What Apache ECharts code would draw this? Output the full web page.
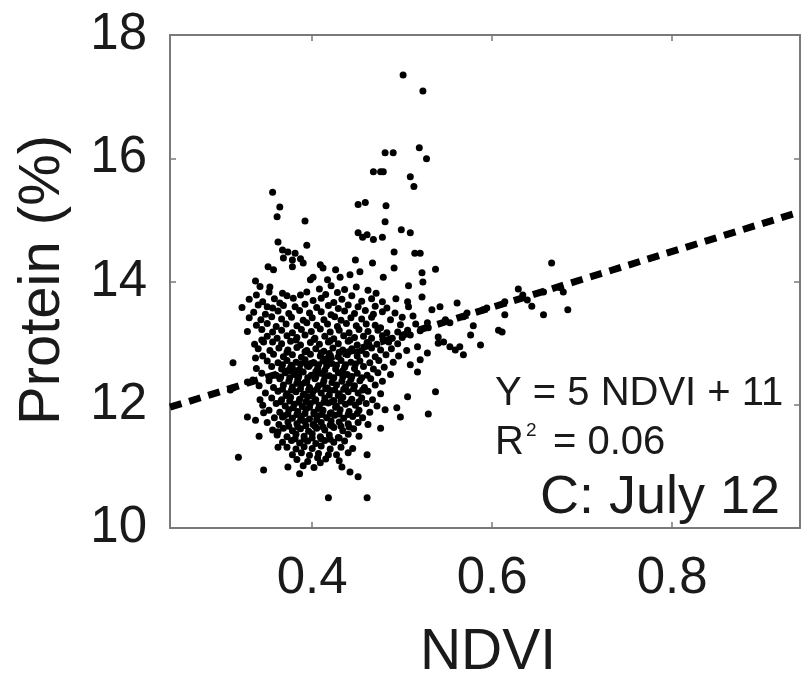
<!DOCTYPE html>
<html lang="en">
<head>
    <meta charset="UTF-8">
    <title>Protein vs NDVI</title>
    <script src="https://cdn.jsdelivr.net/npm/echarts@6/dist/echarts.min.js"></script>
    <style>
        html, body { margin: 0; padding: 0; background: #ffffff; }
        #main { width: 807px; height: 678px; }
    </style>
</head>
<body>
<div id="main"></div>
<script>
    // axis ticks
    var xTicks = [0.4, 0.6, 0.8];
    var yTicks = [10, 12, 14, 16, 18];

    // scattered points outside the dense core
    var outerPoints = [
        [0.501,17.35],[0.523,17.09],[0.519,16.17],[0.527,15.99],[0.481,16.09],[0.490,16.09],[0.479,15.78],[0.468,15.78],
        [0.476,15.78],[0.509,15.70],[0.513,15.54],[0.356,15.45],[0.364,15.21],[0.361,15.05],[0.392,14.98],[0.451,15.25],
        [0.459,15.28],[0.482,15.23],[0.481,14.97],[0.451,14.79],[0.461,14.76],[0.468,14.68],[0.456,14.72],[0.362,14.64],
        [0.394,14.59],[0.367,14.51],[0.373,14.48],[0.381,14.46],[0.368,14.38],[0.378,14.35],[0.387,14.37],[0.378,14.24],
        [0.390,14.30],[0.351,14.24],[0.357,14.19],[0.337,14.01],[0.353,13.91],[0.409,14.27],[0.412,14.22],[0.426,14.19],
        [0.448,14.35],[0.467,14.30],[0.401,14.07],[0.398,14.03],[0.417,14.03],[0.431,14.07],[0.442,14.11],[0.453,14.16],
        [0.367,13.81],[0.372,13.77],[0.379,13.73],[0.387,13.78],[0.394,13.83],[0.350,13.59],[0.364,13.65],
        [0.478,14.72],[0.499,14.84],[0.509,14.79],[0.491,14.48],[0.514,14.46],[0.520,14.46],[0.491,14.22],[0.537,14.20],
        [0.479,14.07],[0.522,14.14],[0.523,13.99],[0.507,13.93],[0.493,13.72],[0.522,13.75],[0.506,13.67],[0.507,13.59],
        [0.483,13.57],[0.492,13.49],[0.512,13.44],[0.533,13.54],[0.542,13.59],[0.561,13.65],[0.572,13.49],[0.568,13.43],
        [0.594,13.57],[0.590,13.54],[0.614,13.67],[0.629,13.88],[0.634,13.78],[0.639,13.70],[0.644,13.60],[0.614,13.46],
        [0.528,13.33],[0.529,13.25],[0.548,13.38],[0.553,13.33],[0.579,13.28],[0.607,13.21],[0.611,13.18],[0.576,13.13],
        [0.498,13.30],[0.506,13.21],[0.509,13.13],[0.476,13.25],[0.483,13.17],[0.489,13.08],[0.540,13.10],[0.546,13.02],
        [0.553,12.94],[0.564,12.94],[0.587,12.97],[0.517,12.94],
        [0.666,14.30],[0.657,13.83],[0.676,13.90],[0.679,13.83],[0.657,13.46],[0.684,13.54],
        [0.537,12.21],[0.506,12.13],[0.481,11.92],[0.494,11.95],[0.498,11.80],[0.529,11.85],[0.476,11.62],[0.520,12.73],
        [0.509,12.65],[0.517,12.53],[0.528,12.84],[0.540,13.00],[0.559,12.89],[0.568,12.81],
        [0.312,12.68],[0.337,12.76],[0.309,12.24],[0.312,12.27],[0.328,12.37],[0.334,12.40],[0.344,13.05],[0.356,13.02],
        [0.328,11.80],[0.337,11.75],[0.346,11.87],[0.341,11.49],[0.318,11.15],[0.346,10.94],[0.373,10.99],[0.386,10.88],
        [0.362,11.56],[0.367,11.80],[0.362,11.31],[0.406,11.14],[0.409,11.06],[0.418,11.19],[0.433,10.99],[0.442,10.91],
        [0.451,10.83],[0.461,11.19],[0.418,10.49],[0.461,10.49],[0.342,12.08]
    ];

    // dense core of the cloud
    var corePoints = [
        [0.342,13.92],[0.408,13.88],[0.421,13.93],[0.436,13.87],[0.449,13.91],[0.462,13.86],
        [0.338,13.78],[0.352,13.83],[0.415,13.79],[0.428,13.82],[0.444,13.77],[0.471,13.81],
        [0.330,13.71],[0.345,13.67],[0.358,13.72],[0.401,13.69],[0.410,13.73],[0.424,13.66],[0.433,13.71],[0.455,13.68],[0.466,13.72],[0.478,13.67],
        [0.322,13.58],[0.340,13.62],[0.356,13.57],[0.368,13.61],[0.381,13.59],[0.392,13.63],[0.405,13.58],[0.418,13.61],[0.429,13.56],[0.440,13.62],[0.451,13.59],[0.470,13.60],
        [0.335,13.50],[0.348,13.47],[0.362,13.52],[0.374,13.48],[0.386,13.53],[0.397,13.49],[0.410,13.51],[0.421,13.46],[0.436,13.52],[0.447,13.48],[0.459,13.53],[0.468,13.47],[0.478,13.51],
        [0.330,13.41],[0.343,13.38],[0.355,13.43],[0.366,13.39],[0.377,13.42],[0.390,13.37],[0.400,13.41],[0.413,13.38],[0.425,13.43],[0.432,13.37],[0.443,13.41],[0.455,13.39],[0.466,13.42],[0.487,13.38],[0.500,13.42],
        [0.338,13.29],[0.350,13.32],[0.360,13.27],[0.371,13.31],[0.383,13.28],[0.394,13.33],[0.405,13.29],[0.417,13.31],[0.428,13.27],[0.438,13.32],[0.449,13.28],[0.460,13.31],[0.470,13.29],[0.515,13.31],
        [0.328,13.19],[0.344,13.22],[0.356,13.18],[0.366,13.21],[0.378,13.17],[0.388,13.22],[0.399,13.19],[0.409,13.23],[0.420,13.18],[0.430,13.21],[0.441,13.17],[0.452,13.22],[0.462,13.19],[0.473,13.21],[0.495,13.18],[0.520,13.20],
        [0.350,13.11],[0.361,13.08],[0.372,13.12],[0.383,13.09],[0.392,13.13],[0.403,13.08],[0.414,13.11],[0.424,13.07],[0.435,13.12],[0.447,13.09],[0.457,13.11],[0.466,13.08],[0.478,13.12],[0.500,13.09],
        [0.382,13.05],[0.402,13.06],[0.420,13.04],[0.442,13.05],
        [0.336,12.98],[0.346,13.02],[0.366,12.99],[0.376,13.03],[0.387,12.97],[0.398,13.01],[0.408,12.98],[0.418,13.02],[0.429,12.99],[0.440,13.03],[0.450,12.97],[0.461,13.01],[0.472,12.98],[0.485,13.02],[0.495,12.99],
        [0.340,12.91],[0.353,12.88],[0.363,12.92],[0.373,12.89],[0.383,12.93],[0.394,12.88],[0.404,12.91],[0.413,12.87],[0.423,12.92],[0.434,12.89],[0.444,12.91],[0.455,12.88],[0.466,12.92],[0.476,12.89],[0.488,12.91],[0.505,12.88],
        [0.372,12.85],[0.392,12.86],[0.410,12.84],[0.430,12.85],[0.450,12.86],
        [0.345,12.79],[0.357,12.82],[0.368,12.78],[0.378,12.81],[0.388,12.77],[0.398,12.82],[0.409,12.79],[0.419,12.83],[0.429,12.78],[0.439,12.81],[0.450,12.79],[0.460,12.82],[0.470,12.78],[0.482,12.81],[0.496,12.79],
        [0.350,12.71],[0.362,12.68],[0.372,12.72],[0.382,12.69],[0.392,12.73],[0.402,12.68],[0.412,12.71],[0.422,12.67],[0.432,12.72],[0.443,12.69],[0.453,12.71],[0.464,12.68],[0.474,12.72],[0.490,12.69],
        [0.367,12.65],[0.377,12.64],[0.387,12.66],[0.397,12.64],[0.407,12.65],[0.417,12.66],[0.427,12.64],[0.437,12.65],[0.448,12.66],
        [0.338,12.59],[0.355,12.62],[0.366,12.58],[0.376,12.61],[0.386,12.57],[0.396,12.62],[0.406,12.59],[0.416,12.63],[0.426,12.58],[0.436,12.61],[0.447,12.59],[0.457,12.62],[0.468,12.58],[0.480,12.61],
        [0.375,12.55],[0.385,12.56],[0.404,12.54],[0.414,12.56],[0.434,12.55],
        [0.344,12.51],[0.360,12.48],[0.370,12.52],[0.380,12.49],[0.390,12.53],[0.399,12.48],[0.409,12.51],[0.419,12.47],[0.429,12.52],[0.439,12.49],[0.450,12.51],[0.461,12.48],[0.473,12.52],[0.487,12.49],
        [0.365,12.45],[0.375,12.44],[0.385,12.46],[0.395,12.44],[0.404,12.45],[0.414,12.46],[0.424,12.44],[0.434,12.45],[0.444,12.46],[0.455,12.44],
        [0.352,12.39],[0.364,12.42],[0.374,12.38],[0.384,12.41],[0.394,12.37],[0.403,12.42],[0.413,12.39],[0.423,12.43],[0.433,12.38],[0.443,12.41],[0.453,12.39],[0.465,12.42],[0.478,12.38],
        [0.383,12.35],[0.392,12.36],[0.412,12.34],[0.422,12.36],[0.441,12.35],
        [0.341,12.31],[0.357,12.28],[0.368,12.32],[0.378,12.29],[0.388,12.33],[0.397,12.28],[0.407,12.31],[0.417,12.27],[0.427,12.32],[0.437,12.29],[0.447,12.31],[0.458,12.28],[0.470,12.32],
        [0.367,12.25],[0.377,12.24],[0.387,12.26],[0.396,12.24],[0.405,12.25],[0.415,12.26],[0.425,12.24],[0.435,12.25],[0.446,12.26],[0.456,12.24],
        [0.348,12.19],[0.362,12.22],[0.372,12.18],[0.382,12.21],[0.391,12.17],[0.401,12.22],[0.410,12.19],[0.420,12.23],[0.430,12.18],[0.440,12.21],[0.451,12.19],[0.462,12.22],[0.476,12.18],
        [0.371,12.15],[0.390,12.16],[0.400,12.14],[0.419,12.16],[0.429,12.15],
        [0.355,12.11],[0.366,12.08],[0.376,12.12],[0.386,12.09],[0.395,12.13],[0.404,12.08],[0.414,12.11],[0.424,12.07],[0.434,12.12],[0.444,12.09],[0.455,12.11],[0.467,12.08],
        [0.365,12.05],[0.375,12.06],[0.385,12.04],[0.393,12.05],[0.403,12.06],[0.413,12.04],[0.422,12.05],[0.432,12.06],[0.442,12.04],[0.452,12.05],
        [0.345,11.99],[0.360,12.02],[0.370,11.98],[0.380,12.01],[0.389,11.97],[0.398,12.02],[0.408,11.99],[0.418,12.03],[0.427,11.98],[0.437,12.01],[0.448,11.99],[0.460,12.02],[0.472,11.98],
        [0.379,11.95],[0.397,11.96],[0.407,11.94],[0.426,11.96],
        [0.352,11.91],[0.364,11.88],[0.374,11.92],[0.384,11.89],[0.393,11.93],[0.402,11.88],[0.412,11.91],[0.421,11.87],[0.431,11.92],[0.441,11.89],[0.452,11.91],[0.464,11.88],
        [0.373,11.85],[0.383,11.84],[0.392,11.86],[0.402,11.85],[0.411,11.84],[0.420,11.86],[0.430,11.85],[0.440,11.84],[0.450,11.86],
        [0.358,11.79],[0.369,11.82],[0.378,11.78],[0.388,11.81],[0.397,11.77],[0.406,11.82],[0.416,11.79],[0.425,11.83],[0.435,11.78],[0.445,11.81],[0.456,11.79],
        [0.387,11.75],[0.405,11.76],[0.421,11.74],
        [0.350,11.71],[0.363,11.68],[0.373,11.72],[0.383,11.69],[0.392,11.73],[0.401,11.68],[0.410,11.71],[0.420,11.67],[0.430,11.72],[0.440,11.69],[0.451,11.71],[0.462,11.68],
        [0.374,11.65],[0.384,11.64],[0.393,11.66],[0.403,11.65],[0.412,11.64],[0.422,11.66],[0.432,11.65],[0.441,11.64],
        [0.356,11.59],[0.368,11.62],[0.378,11.58],[0.387,11.61],[0.396,11.57],[0.405,11.62],[0.414,11.59],[0.424,11.63],[0.434,11.58],[0.446,11.61],
        [0.361,11.51],[0.372,11.48],[0.382,11.52],[0.391,11.49],[0.400,11.53],[0.409,11.48],[0.419,11.51],[0.429,11.47],[0.440,11.52],[0.452,11.49],
        [0.381,11.45],[0.391,11.44],[0.400,11.46],[0.410,11.45],[0.420,11.44],[0.430,11.46],
        [0.367,11.39],[0.377,11.42],[0.386,11.38],[0.395,11.41],[0.404,11.37],[0.414,11.42],[0.424,11.39],[0.436,11.41],
        [0.372,11.31],[0.382,11.28],[0.391,11.32],[0.400,11.29],[0.410,11.33],[0.420,11.28],[0.432,11.31],[0.445,11.29],
        [0.378,11.19],[0.388,11.22],[0.397,11.18],[0.407,11.21],[0.427,11.19],[0.440,11.22],
        [0.383,11.11],[0.395,11.08],[0.415,11.12],[0.430,11.09],
        [0.390,11.01],[0.402,10.98]
    ];

    // fitted line, ends read at the plot edges
    var fitX = [0.242, 0.942];
    var fitY = [11.96, 15.13];

    var xMin = 0.242, xMax = 0.942;
    var yMin = 10, yMax = 18;

    var font = 'Liberation Sans';
    var axisGray = '#7a7a7a';
    var textColor = '#1a1a1a';

    var chart = echarts.init(document.getElementById('main'), null, {renderer: 'canvas'});

    function axisBase(extra) {
        var a = {
            type: 'value',
            axisLine: {show: true, onZero: false, lineStyle: {color: axisGray, width: 2}},
            axisTick: {show: true, inside: true, length: 6, lineStyle: {color: axisGray, width: 1.5}},
            splitLine: {show: false},
            axisLabel: {show: false}
        };
        for (var k in extra) a[k] = extra[k];
        return a;
    }

    var option = {
        animation: false,
        backgroundColor: '#ffffff',
        textStyle: {fontFamily: font},
        grid: {left: 170, top: 35, right: 7, bottom: 150, containLabel: false},
        xAxis: [
            axisBase({
                min: xMin, max: xMax, position: 'bottom',
                axisTick: {show: true, inside: true, length: 6, customValues: xTicks, lineStyle: {color: axisGray, width: 1.5}},
                axisLabel: {show: true, customValues: xTicks, margin: 25, fontSize: 51, color: textColor, fontFamily: font,
                    formatter: function (v) { return v.toFixed(1); }}
            }),
            axisBase({
                min: xMin, max: xMax, position: 'top',
                axisTick: {show: true, inside: true, length: 6, customValues: xTicks, lineStyle: {color: axisGray, width: 1.5}}
            })
        ],
        yAxis: [
            axisBase({
                min: yMin, max: yMax, interval: 2, position: 'left',
                axisLabel: {show: true, margin: 23, fontSize: 51, color: textColor, fontFamily: font}
            }),
            axisBase({min: yMin, max: yMax, interval: 2, position: 'right'})
        ],
        graphic: [
            {type: 'text', x: 43, y: 280, rotation: Math.PI / 2,
                style: {text: 'Protein (%)', fontSize: 58, fontFamily: font, fill: textColor, align: 'center', verticalAlign: 'middle'}},
            {type: 'text', x: 488, y: 653,
                style: {text: 'NDVI', fontSize: 57, fontFamily: font, fill: textColor, align: 'center', verticalAlign: 'middle'}},
            {type: 'text', x: 495, y: 394,
                style: {text: 'Y = 5 NDVI + 11', fontSize: 40, fontFamily: font, fill: textColor, align: 'left', verticalAlign: 'middle'}},
            {type: 'text', x: 495, y: 443,
                style: {text: 'R', fontSize: 40, fontFamily: font, fill: textColor, align: 'left', verticalAlign: 'middle'}},
            {type: 'text', x: 526, y: 431,
                style: {text: '2', fontSize: 19, fontFamily: font, fill: textColor, align: 'left', verticalAlign: 'middle'}},
            {type: 'text', x: 553, y: 443,
                style: {text: '= 0.06', fontSize: 40, fontFamily: font, fill: textColor, align: 'left', verticalAlign: 'middle'}},
            {type: 'text', x: 540, y: 498,
                style: {text: 'C: July 12', fontSize: 54, fontFamily: font, fill: textColor, align: 'left', verticalAlign: 'middle'}}
        ],
        series: [
            {
                type: 'scatter',
                data: outerPoints.concat(corePoints),
                symbol: 'circle',
                symbolSize: 7,
                itemStyle: {color: '#000000', opacity: 1},
                silent: true
            },
            {
                type: 'line',
                data: [[fitX[0], fitY[0]], [fitX[1], fitY[1]]],
                symbol: 'none',
                lineStyle: {color: '#000000', width: 7, type: [12, 8], cap: 'butt'},
                silent: true,
                z: 5
            }
        ]
    };
    chart.setOption(option);
</script>
</body>
</html>
